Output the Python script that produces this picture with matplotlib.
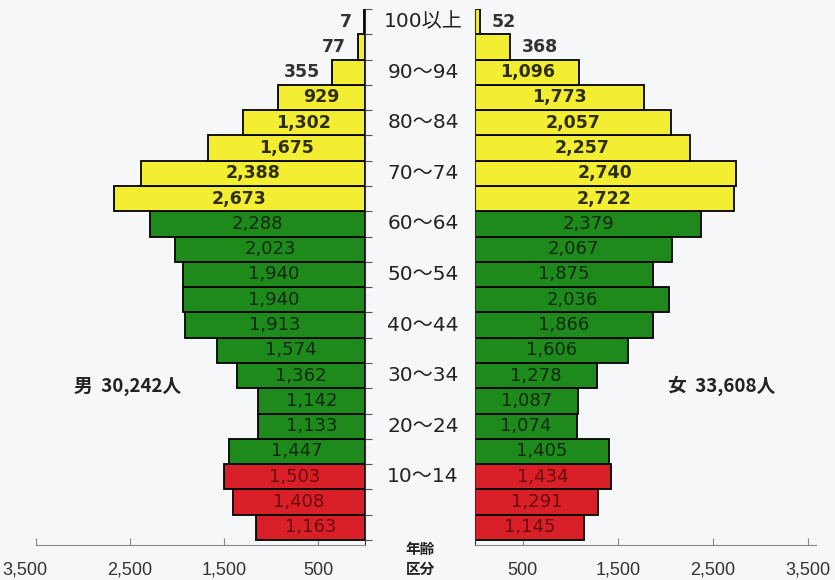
import matplotlib
matplotlib.use("Agg")
import matplotlib.pyplot as plt
from matplotlib.transforms import blended_transform_factory, offset_copy

# ── data (row 0 = 0~4, last row = 100以上) ─────────────────────────────
age_groups = ["0～4", "5～9", "10～14", "15～19", "20～24", "25～29", "30～34",
              "35～39", "40～44", "45～49", "50～54", "55～59", "60～64",
              "65～69", "70～74", "75～79", "80～84", "85～89", "90～94",
              "95～99", "100以上"]
male = [1163, 1408, 1503, 1447, 1133, 1142, 1362, 1574, 1913, 1940, 1940,
        2023, 2288, 2673, 2388, 1675, 1302, 929, 355, 77, 7]
female = [1145, 1291, 1434, 1405, 1074, 1087, 1278, 1606, 1866, 2036, 1875,
          2067, 2379, 2722, 2740, 2257, 2057, 1773, 1096, 368, 52]
male_total = "男  30,242人"
female_total = "女  33,608人"
xticks = [500, 1500, 2500, 3500]
xticklabels = ["500", "1,500", "2,500", "3,500"]

BG = "#f5f7f8"
YELLOW, GREEN, RED = "#f4ee32", "#1f8a1c", "#d91f28"
NUM_FONT = ["DejaVu Sans"]
TICK_FONT = ["Liberation Sans", "DejaVu Sans"]
JP_FONT = ["Noto Sans CJK JP", "DejaVu Sans"]
AGE_FONT = ["DejaVu Sans", "Noto Sans CJK JP"]


def band_color(i):
    if i <= 2:
        return RED
    if i <= 12:
        return GREEN
    return YELLOW


def label_color(i):
    if i <= 2:
        return "#6a0d0d"
    if i <= 12:
        return "#0f2a0f"
    return "#2e2e10"


fig = plt.figure(figsize=(8.35, 5.8), dpi=100, facecolor=BG)
W, H = 835, 580
bottom_px, top_px = 545, 9
# male: 3500 at x=36, 0 at x=365 ; female: 0 at x=475, 3500 at x=808 (line runs to 816)
ax_m = fig.add_axes([36 / W, 1 - bottom_px / H, (365 - 36) / W, (bottom_px - top_px) / H])
ax_f = fig.add_axes([475 / W, 1 - bottom_px / H, (816 - 475) / W, (bottom_px - top_px) / H])

rows = list(range(len(age_groups)))
colors = [band_color(i) for i in rows]

for ax, vals, side in [(ax_m, male, "m"), (ax_f, female, "f")]:
    ax.set_facecolor("none")
    ax.barh(rows, vals, height=1.0, color=colors, edgecolor="black", linewidth=1.3, zorder=2)
    ax.set_ylim(-0.7, len(rows) - 0.5)
    ax.set_xticks(xticks)
    ax.set_xticklabels(xticklabels, fontfamily=TICK_FONT, fontsize=13, color="#333333")
    ax.tick_params(axis="x", direction="in", length=5, pad=12, color="#888888")
    for s in ["top", "left", "right"]:
        ax.spines[s].set_visible(False)
    ax.spines["bottom"].set_color("#888888")
    for i, v in enumerate(vals):
        txt = f"{v:,}"
        if v < 400:
            off = 12 if side == "f" else -12
            ax.annotate(txt, (v, i), xytext=(off, 0), textcoords="offset pixels",
                        ha="left" if side == "f" else "right", va="center",
                        fontfamily=NUM_FONT, fontsize=12.5, fontweight="bold", color="#333333")
        else:
            ax.text(v / 2, i, txt, ha="center", va="center",
                    fontfamily=NUM_FONT, fontsize=12.5 if i > 12 else 13,
                    fontweight="bold" if i > 12 else "normal",
                    color=label_color(i), zorder=3)

ax_m.set_xlim(3500, 0)
ax_f.set_xlim(0, 3500 * (816 - 475) / (808 - 475))

# the outer "3,500" labels sit a little inwards / clipped like the original
lbl_m = ax_m.get_xticklabels()[-1]
lbl_m.set_transform(offset_copy(lbl_m.get_transform(), fig=fig, x=-11, y=0, units="dots"))

ax_m.set_yticks([r - 0.5 for r in rows] + [len(rows) - 0.5])
ax_m.yaxis.tick_right()
ax_m.set_yticklabels([])
ax_m.spines["right"].set_visible(True)
ax_m.spines["right"].set_color("#333333")
ax_m.tick_params(axis="y", direction="out", length=5, color="#555555")
ax_f.set_yticks([])
ax_f.spines["left"].set_visible(True)
ax_f.spines["left"].set_color("#333333")

# age labels in the gap
tr = blended_transform_factory(fig.transFigure, ax_m.transData)
for i in range(len(age_groups) - 1, 1, -2):
    fig.text(423 / W, i, age_groups[i], transform=tr, ha="center", va="center",
             fontfamily=AGE_FONT, fontsize=14.5, color="#222222")

fig.text(420 / W, 1 - 559 / H, "年齢\n区分", ha="center", va="center",
         fontfamily=JP_FONT, fontsize=10.5, fontweight="bold", color="#222222", linespacing=1.25)

fig.text(128 / W, 1 - 386 / H, male_total, ha="center", va="center",
         fontfamily=JP_FONT, fontsize=13.5, fontweight="bold", color="#222222")
fig.text(722 / W, 1 - 386 / H, female_total, ha="center", va="center",
         fontfamily=JP_FONT, fontsize=13.5, fontweight="bold", color="#222222")

fig.savefig("out.png", dpi=100, facecolor=BG)
